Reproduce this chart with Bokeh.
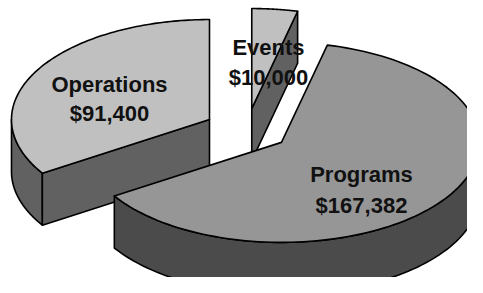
import numpy as np
from bokeh.plotting import figure
from bokeh.models import Range1d, ColumnDataSource
from bokeh.embed import file_html
from bokeh.resources import INLINE
from bokeh.core.properties import value

# ---- data ----
categories = ["Events", "Programs", "Operations"]
amounts = [10000, 167382, 91400]
amount_labels = ["$10,000", "$167,382", "$91,400"]

# ---- style ----
top_colors = ["#C0C0C0", "#969696", "#C0C0C0"]
side_colors = ["#616161", "#4B4B4B", "#616161"]

# ---- layout (reference pixel coords, y downward) ----
CX, CY = 246.3, 129.4      # pie centre
RA, RB = 198.0, 100.0      # ellipse radii
DEPTH = 52.0               # thickness
EXPLODE = 0.215            # explosion (fraction of radius)
START = 90.0               # first slice starts at 12 o'clock, clockwise
label_x = [268, 361, 109]
label_y1 = [47, 174, 84]
label_y2 = [77, 205, 113]

vals = np.array(amounts, dtype=float)
frac = vals / vals.sum()
hi_ang = START - 360.0 * np.concatenate([[0], np.cumsum(frac)[:-1]])
lo_ang = hi_ang - 360.0 * frac


def rim(ax, ay, th_deg, dz=0.0):
    t = np.radians(th_deg)
    return ax + RA * np.cos(t), ay - RB * np.sin(t) + dz


slices = []
for i in range(len(categories)):
    mid = np.radians((lo_ang[i] + hi_ang[i]) / 2)
    ax = CX + EXPLODE * RA * np.cos(mid)
    ay = CY - EXPLODE * RB * np.sin(mid)
    slices.append((ay, i, ax))
slices.sort()

xs, ys, fills = [], [], []
for ay, i, ax in slices:
    lo, hi = lo_ang[i], hi_ang[i]
    # visible outer wall (front half: sin < 0)
    for k in range(-2, 3):
        a0, a1 = max(lo, -180 + 360 * k), min(hi, 360 * k)
        if a1 - a0 > 0.01:
            th = np.linspace(a0, a1, 80)
            tx, ty = rim(ax, ay, th)
            bx, by = rim(ax, ay, th[::-1], DEPTH)
            xs.append(list(np.concatenate([tx, bx])))
            ys.append(list(-np.concatenate([ty, by])))
            fills.append(side_colors[i])
    # visible radial walls
    for th, nrm in ((lo, lo - 90), (hi, hi + 90)):
        if np.sin(np.radians(nrm)) < -1e-3:
            rx, ry = rim(ax, ay, th)
            px = [ax, rx, rx, ax]
            py = [ay, ry, ry + DEPTH, ay + DEPTH]
            xs.append(px)
            ys.append([-v for v in py])
            fills.append(side_colors[i])
    # top face
    th = np.linspace(lo, hi, 120)
    tx, ty = rim(ax, ay, th)
    xs.append([ax] + list(tx))
    ys.append([-ay] + list(-ty))
    fills.append(top_colors[i])

p = figure(width=467, height=277, output_backend="svg", toolbar_location=None,
           x_range=Range1d(0, 467), y_range=Range1d(-277, 0),
           x_axis_location=None, y_axis_location=None, min_border=0,
           outline_line_color=None, background_fill_color="white",
           border_fill_color="white")
p.grid.visible = False

p.patches(xs="xs", ys="ys", fill_color="fill",
          source=ColumnDataSource(dict(xs=xs, ys=ys, fill=fills)),
          line_color="black", line_width=1.6, line_join="round")

txt = ColumnDataSource(dict(
    x=label_x + label_x,
    y=[-v for v in label_y1] + [-v for v in label_y2],
    t=categories + amount_labels))
p.text(x="x", y="y", text="t", source=txt, text_font=value("Liberation Sans"),
       text_font_style="bold", text_font_size="22px", text_align="center",
       text_baseline="alphabetic", text_color="#111111")

open("out.html", "w").write(file_html(p, INLINE))
